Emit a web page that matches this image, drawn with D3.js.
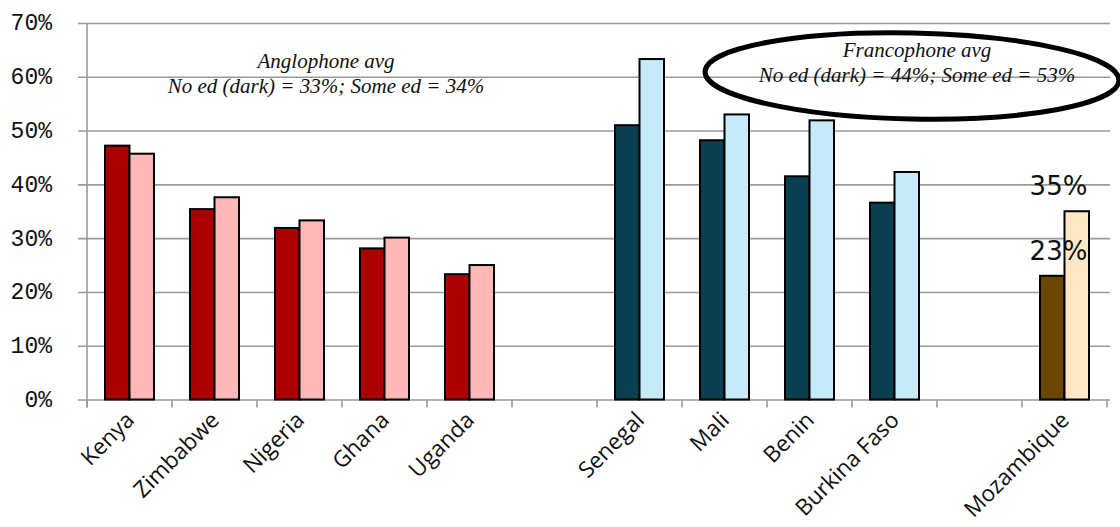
<!DOCTYPE html>
<html>
<head>
<meta charset="utf-8">
<script src="https://cdn.jsdelivr.net/npm/d3@7"></script>
<style>
  html, body { margin: 0; padding: 0; background: #fff; }
  svg { display: block; }
</style>
</head>
<body>
<svg id="chart" width="1120" height="527"></svg>
<script>
// Category slots along the x axis; empty strings are spacer slots between regions
const slots = ["Kenya", "Zimbabwe", "Nigeria", "Ghana", "Uganda", "",
               "Senegal", "Mali", "Benin", "Burkina Faso", " ", "Mozambique"];
const countries = ["Kenya", "Zimbabwe", "Nigeria", "Ghana", "Uganda",
                   "Senegal", "Mali", "Benin", "Burkina Faso", "Mozambique"];
const region = ["ang", "ang", "ang", "ang", "ang", "fr", "fr", "fr", "fr", "moz"];
// Share (%) by education level
const noEd   = [47.2, 35.4, 31.9, 28.1, 23.3, 51.0, 48.2, 41.5, 36.6, 23];
const someEd = [45.7, 37.6, 33.3, 30.1, 25.0, 63.3, 53.0, 51.9, 42.3, 35];
const seriesKeys = ["noEd", "someEd"];
const yTicks = [0, 10, 20, 30, 40, 50, 60, 70];

const palette = {
  ang: { noEd: "#aa0000", someEd: "#ffb8b8" },
  fr:  { noEd: "#0b4052", someEd: "#c6eaf8" },
  moz: { noEd: "#6b4600", someEd: "#ffe8c6" }
};

const rows = countries.map((c, i) => ({
  country: c, region: region[i], noEd: noEd[i], someEd: someEd[i]
}));

const svg = d3.select("#chart");
const plotLeft = 87, plotRight = 1107, plotTop = 23, plotBottom = 399.5;

const x0 = d3.scaleBand().domain(slots).range([plotLeft, plotRight]).padding(0);
const x1 = d3.scaleBand().domain(seriesKeys).range([0, x0.bandwidth()])
  .paddingInner(0).paddingOuter(0.735);
const y = d3.scaleLinear().domain([0, 70]).range([plotBottom, plotTop]);

// Horizontal gridlines with short outer ticks on the left
const yAxis = d3.axisLeft(y).tickValues(yTicks).tickSize(-(plotRight - plotLeft + 3))
  .tickFormat(d => d + "%").tickPadding(35);
const gy = svg.append("g").attr("transform", `translate(${plotLeft},0)`).call(yAxis);
gy.select(".domain").remove();
gy.selectAll(".tick line").attr("x1", -9).attr("stroke", "#9a9a9a").attr("stroke-width", 1.6);
gy.selectAll(".tick text")
  .attr("font-family", "'Liberation Mono', monospace")
  .attr("font-size", 23).attr("fill", "#111").attr("dy", "0.3em");

// Vertical axis line
svg.append("line")
  .attr("x1", plotLeft).attr("x2", plotLeft).attr("y1", plotTop).attr("y2", plotBottom + 8)
  .attr("stroke", "#9a9a9a").attr("stroke-width", 1.6);

// Slot boundary ticks on the category axis
const boundaries = slots.map(s => x0(s)).concat([plotRight]);
svg.append("g").selectAll("line").data(boundaries).join("line")
  .attr("x1", d => d).attr("x2", d => d)
  .attr("y1", plotBottom).attr("y2", plotBottom + 8)
  .attr("stroke", "#9a9a9a").attr("stroke-width", 1.6);

// Bars
const groups = svg.append("g").selectAll("g").data(rows).join("g")
  .attr("transform", d => `translate(${x0(d.country)},0)`);
groups.selectAll("rect")
  .data(d => seriesKeys.map(k => ({ key: k, value: d[k], region: d.region })))
  .join("rect")
  .attr("x", d => x1(d.key))
  .attr("width", x1.bandwidth())
  .attr("y", d => y(d.value))
  .attr("height", d => y(0) - y(d.value))
  .attr("fill", d => palette[d.region][d.key])
  .attr("stroke", "#000").attr("stroke-width", 2);

// Category labels, rotated
svg.append("g").selectAll("text").data(countries).join("text")
  .attr("transform", d => `translate(${x0(d) + x0.bandwidth() / 2 + 6},${plotBottom + 22}) rotate(-45)`)
  .attr("text-anchor", "end")
  .attr("font-family", "'Open Sans', sans-serif")
  .attr("font-size", 22.5).attr("fill", "#111")
  .text(d => d);

// Value labels for Mozambique
const moz = rows.find(d => d.country === "Mozambique");
const mozCx = x0(moz.country) + x0.bandwidth() / 2 - 6;
svg.append("g").selectAll("text").data(seriesKeys).join("text")
  .attr("x", mozCx)
  .attr("y", k => y(moz[k]) - 16)
  .attr("text-anchor", "middle")
  .attr("font-family", "'DejaVu Sans', sans-serif")
  .attr("font-size", 26).attr("fill", "#111")
  .text(k => d3.format(".0f")(moz[k]) + "%");

// Regional average notes
const avg = arr => Math.round(d3.mean(arr));
const angNo = avg(rows.filter(d => d.region === "ang").map(d => d.noEd));
const angSome = avg(rows.filter(d => d.region === "ang").map(d => d.someEd));
const frNo = avg(rows.filter(d => d.region === "fr").map(d => d.noEd));
const frSome = avg(rows.filter(d => d.region === "fr").map(d => d.someEd));

const note = (cx, y1, y2, title, line) => {
  const g = svg.append("g")
    .attr("font-family", "'Liberation Serif', serif")
    .attr("font-style", "italic").attr("font-size", 21)
    .attr("text-anchor", "middle").attr("fill", "#111");
  g.append("text").attr("x", cx).attr("y", y1).text(title);
  g.append("text").attr("x", cx).attr("y", y2).text(line);
};
note(326, 68, 93, "Anglophone avg", `No ed (dark) = ${angNo}%; Some ed = ${angSome}%`);
note(917, 57, 82, "Francophone avg", `No ed (dark) = ${frNo}%; Some ed = ${frSome}%`);

// Highlight ring around the Francophone note
svg.append("ellipse")
  .attr("cx", 912).attr("cy", 76).attr("rx", 207).attr("ry", 43)
  .attr("transform", "rotate(1.2 912 76)")
  .attr("fill", "none").attr("stroke", "#000").attr("stroke-width", 5);
</script>
</body>
</html>
